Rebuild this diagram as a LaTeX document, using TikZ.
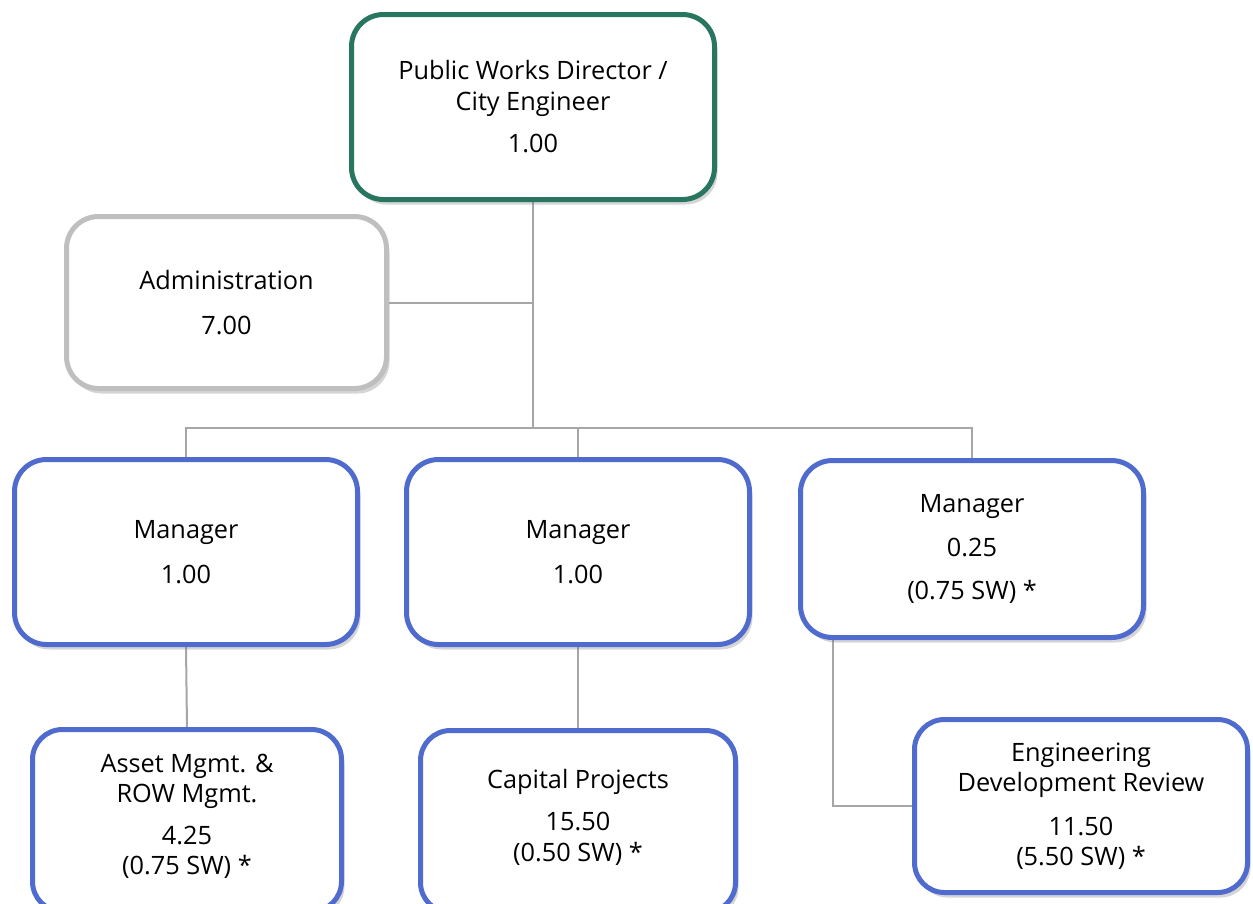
\documentclass[tikz,border=0pt]{standalone}
\usepackage{fontspec}
\setmainfont{Open Sans}
\usetikzlibrary{shadows,backgrounds,calc}
\definecolor{dirgreen}{HTML}{28765F}
\definecolor{mgrblue}{HTML}{4F6BCD}
\definecolor{admgray}{HTML}{BFBFBF}
\definecolor{linegray}{HTML}{A6A6A6}
\tikzset{
  box/.style={draw, rounded corners=32pt, line width=5pt, fill=white, align=center,
    inner sep=0pt, font=\fontsize{25.3}{30.5}\selectfont,
    drop shadow={shadow xshift=3pt, shadow yshift=-5pt, opacity=0.3, fill=black!55}},
  dirbox/.style={box, draw=dirgreen},
  admbox/.style={box, draw=admgray},
  mgrbox/.style={box, draw=mgrblue},
  conn/.style={draw=linegray, line width=2pt}
}
\begin{document}
\begin{tikzpicture}[x=1pt, y=-1pt]
\clip (0,0) rectangle (1253,903);

\node[dirbox, minimum width=363pt, minimum height=185pt] (dir) at (533,107)
  {Public Works Director /\\City Engineer\\[12pt]1.00};
\node[admbox, minimum width=320pt, minimum height=172pt] (adm) at (226.5,302.5)
  {Administration\\[14pt]7.00};
\node[mgrbox, minimum width=343pt, minimum height=185pt] (m1) at (186,552)
  {Manager\\[14pt]1.00};
\node[mgrbox, minimum width=343pt, minimum height=185pt] (m2) at (578,552)
  {Manager\\[14pt]1.00};
\node[mgrbox, minimum width=343pt, minimum height=177pt] (m3) at (972,549)
  {Manager\\[13pt]0.25\\[13pt](0.75 SW) *};
\node[mgrbox, rounded corners=30pt, minimum width=309pt, minimum height=182pt] (asset) at (187,820.5)
  {Asset Mgmt. \&\\ROW Mgmt.\\[11pt]4.25\\(0.75 SW) *\\[-18pt]};
\node[mgrbox, rounded corners=30pt, minimum width=315pt, minimum height=182pt] (cap) at (578,821.5)
  {Capital Projects\\[12pt]15.50\\(0.50 SW) *\\[-18pt]};
\node[mgrbox, rounded corners=30pt, minimum width=333pt, minimum height=173pt] (eng) at (1081,806)
  {Engineering\\Development Review\\[13pt]11.50\\(5.50 SW) *};

\coordinate (ja) at (533,302.5);
\coordinate (jb) at (533,428);
\coordinate (k) at (833,806);

\begin{pgfonlayer}{background}
\draw[conn] (dir.south) -- (jb);
\draw[conn] (adm.east) -- (ja);
\draw[conn] (m1.north) -- (m1.north |- jb) -- (m3.north |- jb) -- (m3.north);
\draw[conn] (m2.north) -- (m2.north |- jb);
\draw[conn] (m1.south) -- (asset.north);
\draw[conn] (m2.south) -- (cap.north);
\draw[conn] (k |- m3.south) -- (k) -- (eng.west);
\end{pgfonlayer}
\end{tikzpicture}
\end{document}
